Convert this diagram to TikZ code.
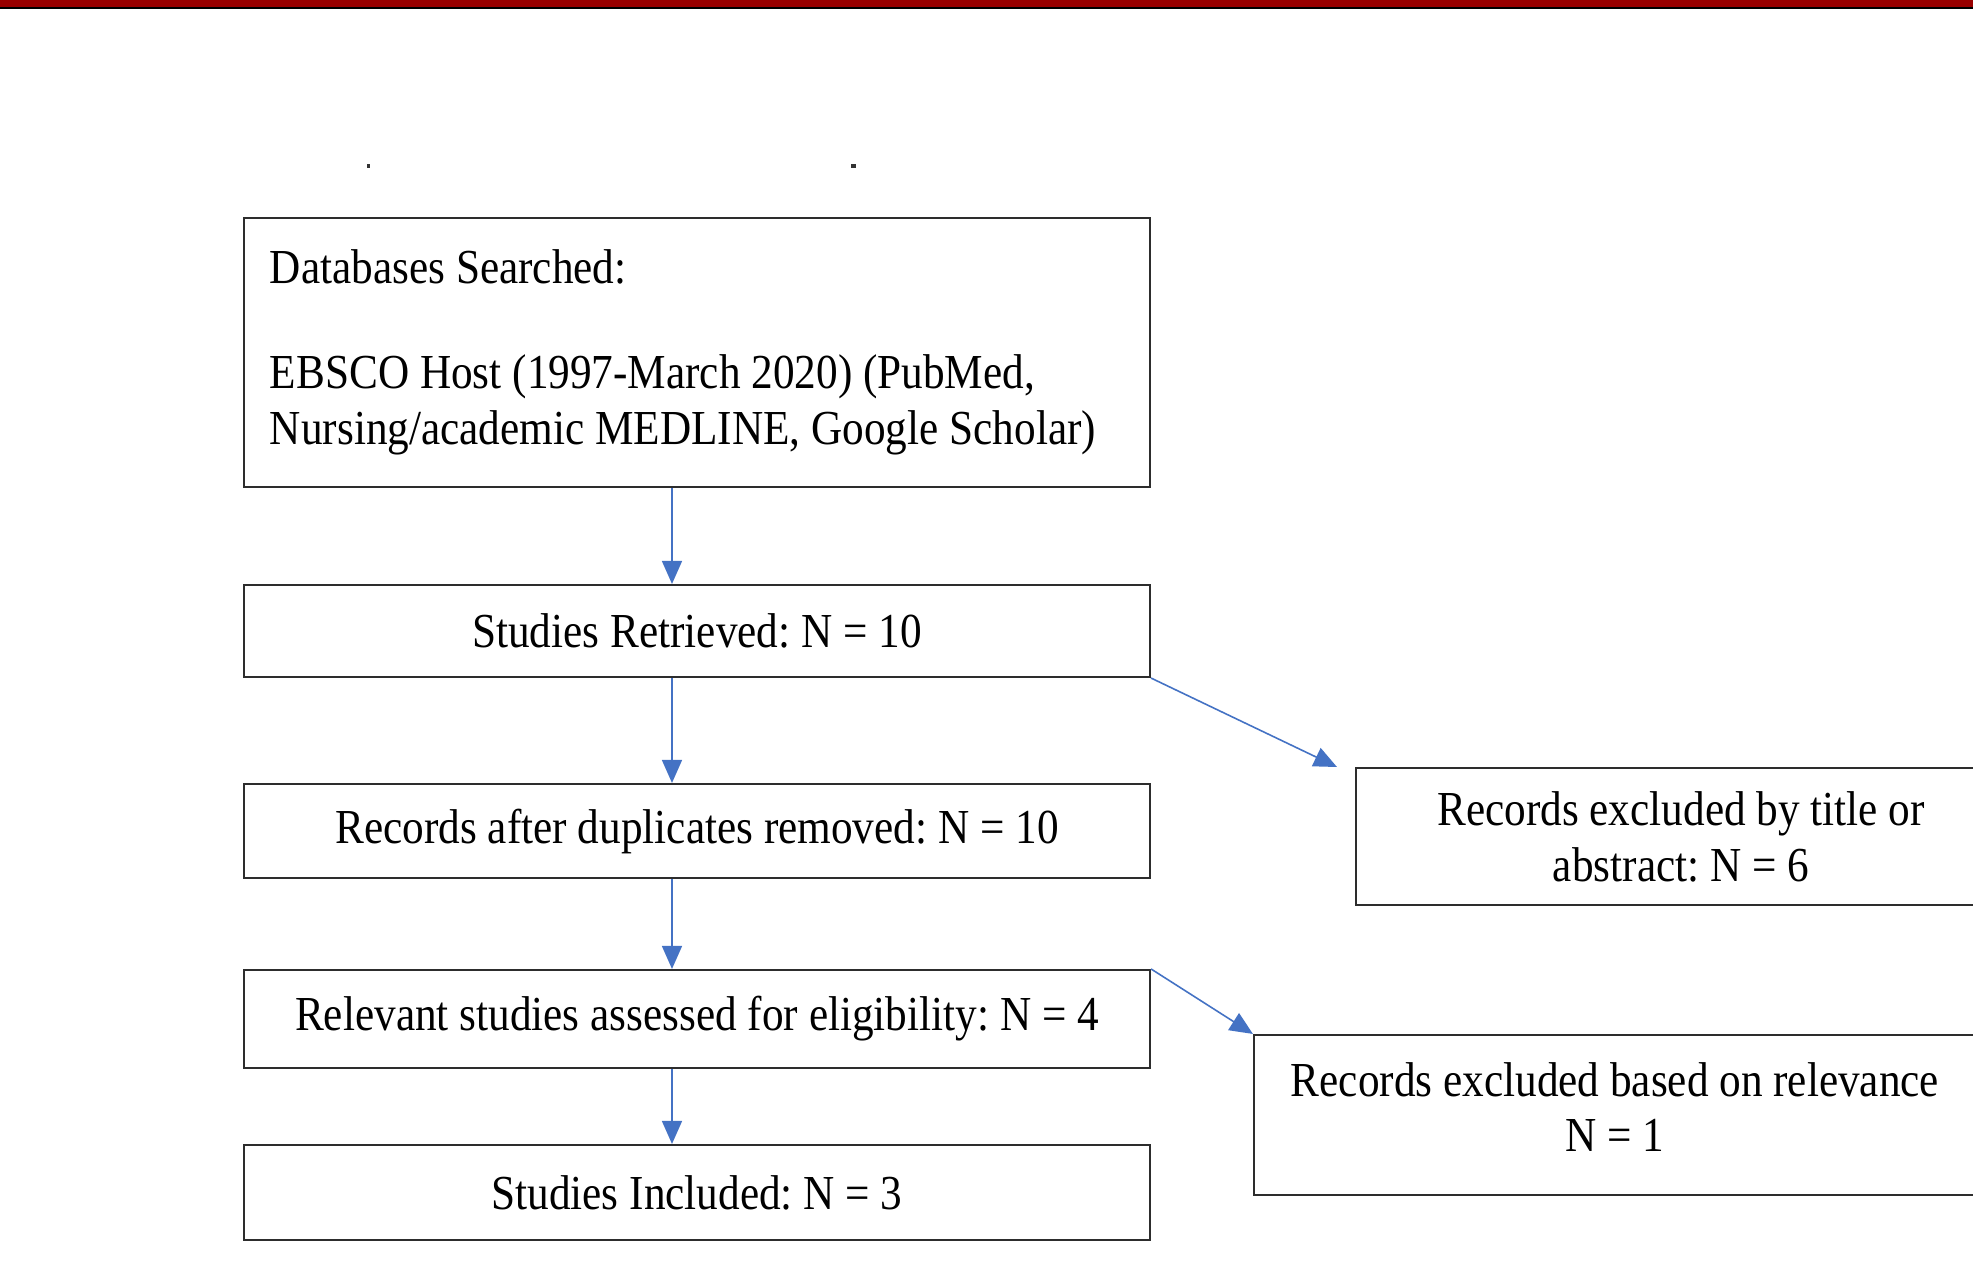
\documentclass[tikz,border=0pt]{standalone}
\usepackage{fontspec}
\setmainfont{Liberation Serif}[FakeStretch=0.885]
\usepackage{xcolor}
\definecolor{flowblue}{RGB}{68,114,196}
\definecolor{barred}{RGB}{153,0,0}
\definecolor{boxgray}{RGB}{45,45,45}
\usetikzlibrary{arrows.meta,positioning}
\frenchspacing

\begin{document}
\begin{tikzpicture}[
  flowbox/.style={
    rectangle, draw=boxgray, line width=0.6pt,
    minimum width=9.06cm, inner sep=0pt,
    font=\fontsize{13.9}{15.9}\selectfont,
    align=center
  },
  flow/.style={-{Triangle[length=0.23cm,width=0.2cm]}, line width=0.45pt, draw=flowblue}
]
\useasboundingbox (0,0) rectangle (19.73,-12.81);
\clip (0,0) rectangle (19.73,-12.81);
\fill[white] (0,0) rectangle (19.73,-12.81);

% header bar of the slide
\fill[barred] (0,0) rectangle (19.73,-0.07);
\fill[black] (0,-0.07) rectangle (19.73,-0.09);
% cut-off remains of the title
\fill[black!80] (3.665,-1.64) rectangle (3.695,-1.68);
\fill[black!80] (8.505,-1.64) rectangle (8.555,-1.68);

% main column
\node[flowbox, minimum height=2.69cm, text width=8.54cm, inner xsep=0.26cm, align=flush left] (db) at (6.97,-3.525)
  {Databases Searched:\\[0.49cm]EBSCO Host (1997-March 2020) (PubMed,\\Nursing/academic MEDLINE, Google Scholar)};
\node[flowbox, minimum height=0.92cm] (ret)  at (6.97,-6.31)   {Studies Retrieved: N = 10};
\node[flowbox, minimum height=0.94cm] (dup)  at (6.97,-8.31)   {Records after duplicates removed: N = 10};
\node[flowbox, minimum height=0.98cm] (elig) at (6.97,-10.19)  {Relevant studies assessed for eligibility: N = 4};
\node[flowbox, minimum height=0.95cm] (incl) at (6.97,-11.925) {Studies Included: N = 3};

% exclusions
\node[flowbox, minimum width=6.5cm, minimum height=1.37cm] (exa) at (16.81,-8.365)
  {Records excluded by title or\\abstract: N = 6};
\node[flowbox, minimum width=7.22cm, minimum height=1.6cm, text depth=0.16cm] (exb) at (16.15,-11.15)
  {Records excluded based on relevance\\N = 1};

\coordinate (ax) at (6.72,0);
\coordinate (tipa) at (13.37,-7.67);

\draw[flow] (db.south -| ax) -- (ret.north -| ax);
\draw[flow] (ret.south -| ax) -- (dup.north -| ax);
\draw[flow] (dup.south -| ax) -- (elig.north -| ax);
\draw[flow] (elig.south -| ax) -- (incl.north -| ax);
\draw[flow] (ret.south east) -- (tipa);
\draw[flow] (elig.north east) -- (exb.north west);
\end{tikzpicture}
\end{document}
